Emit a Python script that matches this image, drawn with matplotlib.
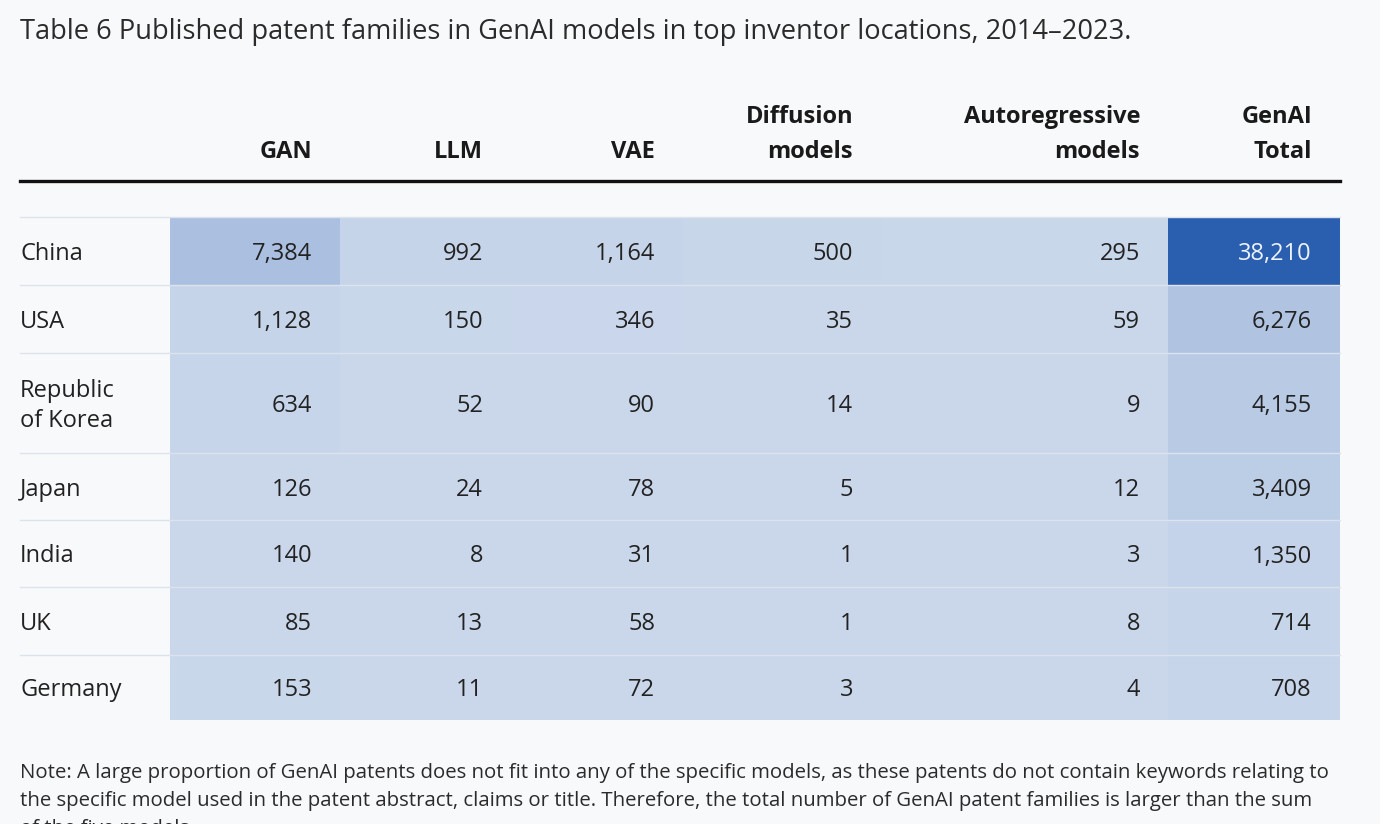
import matplotlib.pyplot as plt
import numpy as np
from matplotlib.colors import LinearSegmentedColormap

plt.rcParams['font.family'] = ['Open Sans', 'DejaVu Sans']

# table data
countries = ["China", "USA", "Republic\nof Korea", "Japan", "India", "UK", "Germany"]
headers = ["GAN", "LLM", "VAE", "Diffusion\nmodels", "Autoregressive\nmodels", "GenAI\nTotal"]
gan = [7384, 1128, 634, 126, 140, 85, 153]
llm = [992, 150, 52, 24, 8, 13, 11]
vae = [1164, 346, 90, 78, 31, 58, 72]
diffusion = [500, 35, 14, 5, 1, 1, 3]
autoregressive = [295, 59, 9, 12, 3, 8, 4]
genai_total = [38210, 6276, 4155, 3409, 1350, 714, 708]

title = "Table 6 Published patent families in GenAI models in top inventor locations, 2014\u20132023."
note = ["Note: A large proportion of GenAI patents does not fit into any of the specific models, as these patents do not contain keywords relating to",
        "the specific model used in the patent abstract, claims or title. Therefore, the total number of GenAI patent families is larger than the sum",
        "of the five models."]

values = np.array([gan, llm, vae, diffusion, autoregressive, genai_total]).T

# layout in pixels (figure is 1380 x 824)
W, H = 1380, 824
left, right = 20, 1340
col_edges = [170, 340, 511, 683, 881, 1168, 1340]
row_edges = [217, 285, 353, 453, 520, 587, 655, 720]
pad = 28

fig = plt.figure(figsize=(W / 100, H / 100), dpi=100, facecolor='#f8f9fb')
ax = fig.add_axes([0, 0, 1, 1])
ax.set_xlim(0, W)
ax.set_ylim(H, 0)
ax.axis('off')

cmap = LinearSegmentedColormap.from_list("blues", ["#cad7eb", "#2a5fb0"])
ax.pcolormesh(col_edges, row_edges, values, cmap=cmap, vmin=0, vmax=values.max(),
              antialiased=False, zorder=1)

# title
ax.text(left, 32, title, fontsize=19.65, color='#2b2b2b', ha='left', va='center')

# headers
for j, h in enumerate(headers):
    x = col_edges[j + 1] - pad
    ax.text(x, 164, h, fontsize=17, fontweight='bold', color='#1a1a1a',
            ha='right', va='bottom', linespacing=1.6)
ax.plot([left, right], [181, 181], color='#111111', lw=2.4, zorder=3)

# row separators
for y in row_edges[:-1]:
    ax.plot([left, right], [y, y], color='#dde3ec', lw=1, zorder=2)

# cells
for i, c in enumerate(countries):
    yc = (row_edges[i] + row_edges[i + 1]) / 2 + 3
    ax.text(left, yc, c, fontsize=17, color='#222222', ha='left', va='center', linespacing=1.3)
    for j in range(values.shape[1]):
        v = values[i, j]
        col = '#eef2f9' if v > values.max() * 0.5 else '#222222'
        ax.text(col_edges[j + 1] - pad, yc, f"{v:,}", fontsize=17, color=col,
                ha='right', va='center', zorder=4)

# note (last line is cut by the bottom edge, as in the source)
for k, line in enumerate(note):
    ax.text(left, 773 + 28 * k, line, fontsize=14.7, color='#2b2b2b', ha='left', va='center')

fig.savefig("out.png", dpi=100, facecolor=fig.get_facecolor())
